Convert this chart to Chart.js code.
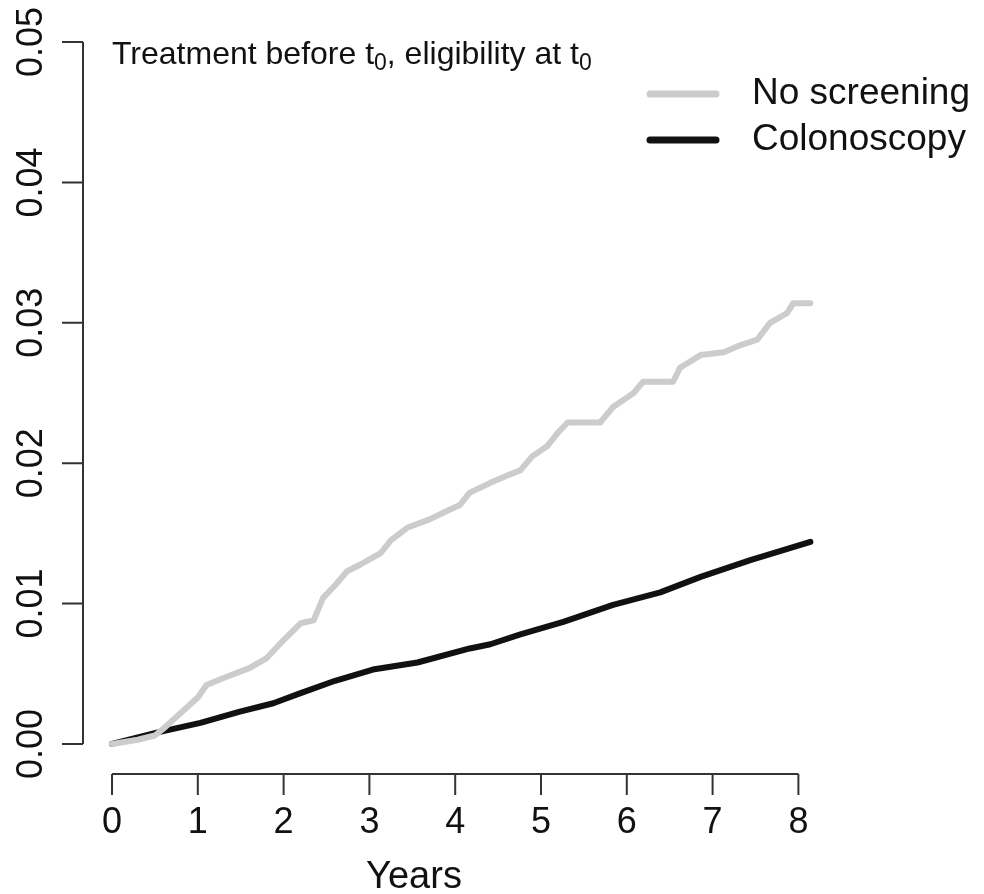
<!DOCTYPE html>
<html>
<head>
<meta charset="utf-8">
<script src="https://cdn.jsdelivr.net/npm/chart.js@4/dist/chart.umd.min.js"></script>
<style>
  html, body { margin: 0; padding: 0; background: #ffffff; }
  #wrap { width: 984px; height: 894px; }
</style>
</head>
<body>
<div id="wrap"><canvas id="c" width="984" height="894"></canvas></div>
<script>
// ---- data ----
const noScreenYears = [0, 0.3, 0.5, 0.62, 0.8, 1.0, 1.1, 1.3, 1.6, 1.8, 2.0, 2.2, 2.35, 2.46, 2.6, 2.74, 2.9, 3.13, 3.25, 3.44, 3.7, 3.94, 4.05, 4.17, 4.41, 4.6, 4.76, 4.9, 5.07, 5.2, 5.31, 5.69, 5.84, 6.08, 6.19, 6.54, 6.62, 6.86, 7.13, 7.32, 7.52, 7.67, 7.87, 7.94, 8.14];
const noScreenValues = [0, 0.0003, 0.0006, 0.0012, 0.0022, 0.0033, 0.0042, 0.0047, 0.0054, 0.0061, 0.0074, 0.0086, 0.0088, 0.0104, 0.0113, 0.0123, 0.0128, 0.0136, 0.0145, 0.0154, 0.0160, 0.0167, 0.0170, 0.0179, 0.0186, 0.0191, 0.0195, 0.0205, 0.0212, 0.0222, 0.0229, 0.0229, 0.0240, 0.0250, 0.0258, 0.0258, 0.0268, 0.0277, 0.0279, 0.0284, 0.0288, 0.0300, 0.0307, 0.0314, 0.0314];
const colonYears = [0, 0.52, 1.03, 1.49, 1.88, 2.19, 2.6, 3.04, 3.56, 4.17, 4.41, 4.76, 5.26, 5.84, 6.39, 6.86, 7.44, 8.14];
const colonValues = [0, 0.0008, 0.0015, 0.0023, 0.0029, 0.0036, 0.0045, 0.0053, 0.0058, 0.0068, 0.0071, 0.0078, 0.0087, 0.0099, 0.0108, 0.0119, 0.0131, 0.0144];
const seriesNames = ["No screening", "Colonoscopy"];
const xTicks = [0, 1, 2, 3, 4, 5, 6, 7, 8];
const yTicks = [0, 0.01, 0.02, 0.03, 0.04, 0.05];
const yTickLabels = ["0.00", "0.01", "0.02", "0.03", "0.04", "0.05"];
const xTitle = "Years";
const panelTitle = ["Treatment before t", "0", ", eligibility at t", "0"];

const FONT = '"Liberation Sans", Arial, sans-serif';
const GRAY = '#cccccc';
const BLACK = '#111111';
const AXIS = '#333333';

const toXY = (xs, ys) => xs.map((x, i) => ({ x: x, y: ys[i] }));

const rAxes = {
  id: 'rAxes',
  afterDraw(chart) {
    const ctx = chart.ctx;
    const xs = chart.scales.x, ys = chart.scales.y;
    const ca = chart.chartArea;
    ctx.save();
    ctx.strokeStyle = AXIS;
    ctx.lineWidth = 2;
    ctx.lineCap = 'butt';
    // y axis
    const yx = ca.left;
    ctx.beginPath();
    ctx.moveTo(yx, ys.getPixelForValue(yTicks[0]));
    ctx.lineTo(yx, ys.getPixelForValue(yTicks[yTicks.length - 1]));
    yTicks.forEach(v => {
      const py = ys.getPixelForValue(v);
      ctx.moveTo(yx, py); ctx.lineTo(yx - 21, py);
    });
    ctx.stroke();
    // x axis
    const xy = ca.bottom + 2;
    ctx.beginPath();
    ctx.moveTo(xs.getPixelForValue(xTicks[0]), xy);
    ctx.lineTo(xs.getPixelForValue(xTicks[xTicks.length - 1]), xy);
    xTicks.forEach(v => {
      const px = xs.getPixelForValue(v);
      ctx.moveTo(px, xy); ctx.lineTo(px, xy + 21);
    });
    ctx.stroke();

    // tick labels
    ctx.fillStyle = '#111';
    ctx.font = '36px ' + FONT;
    ctx.textAlign = 'center';
    ctx.textBaseline = 'middle';
    xTicks.forEach(v => {
      ctx.fillText(String(v), xs.getPixelForValue(v), 823);
    });
    yTicks.forEach((v, i) => {
      const py = ys.getPixelForValue(v);
      ctx.save();
      ctx.translate(32, py);
      ctx.rotate(-Math.PI / 2);
      ctx.fillText(yTickLabels[i], 0, 0);
      ctx.restore();
    });
    // x title
    ctx.font = '38px ' + FONT;
    ctx.textBaseline = 'alphabetic';
    ctx.fillText(xTitle, 414, 888);

    // panel title with subscripts
    ctx.textAlign = 'left';
    let tx = 112;
    const base = 64;
    panelTitle.forEach((s, i) => {
      if (i % 2 === 1) {
        ctx.font = '23px ' + FONT;
        ctx.fillText(s, tx, base + 6);
      } else {
        ctx.font = '32px ' + FONT;
        ctx.fillText(s, tx, base);
      }
      tx += ctx.measureText(s).width;
    });

    // legend
    const ds = chart.data.datasets;
    const rows = [94, 140];
    ds.forEach((d, i) => {
      ctx.strokeStyle = d.borderColor;
      ctx.lineWidth = 7;
      ctx.lineCap = 'round';
      ctx.beginPath();
      ctx.moveTo(650, rows[i]);
      ctx.lineTo(716, rows[i]);
      ctx.stroke();
      ctx.fillStyle = '#111';
      ctx.font = '37px ' + FONT;
      ctx.textBaseline = 'middle';
      ctx.fillText(d.label, 752, rows[i]);
    });
    ctx.restore();
  }
};

new Chart(document.getElementById('c'), {
  type: 'line',
  data: {
    datasets: [
      {
        label: seriesNames[0],
        data: toXY(noScreenYears, noScreenValues),
        borderColor: GRAY,
        borderWidth: 6,
        pointRadius: 0,
        tension: 0,
        fill: false,
        borderCapStyle: 'round',
        borderJoinStyle: 'round'
      },
      {
        label: seriesNames[1],
        data: toXY(colonYears, colonValues),
        borderColor: BLACK,
        borderWidth: 6,
        pointRadius: 0,
        tension: 0,
        fill: false,
        borderCapStyle: 'round',
        borderJoinStyle: 'round'
      }
    ]
  },
  options: {
    responsive: false,
    devicePixelRatio: 1,
    animation: false,
    layout: { padding: { left: 83, top: 14, right: 147, bottom: 122 } },
    plugins: { legend: { display: false }, tooltip: { enabled: false }, title: { display: false } },
    scales: {
      x: { type: 'linear', min: -0.3382, max: 8.45, display: false },
      y: { type: 'linear', min: -0.002, max: 0.052, display: false }
    }
  },
  plugins: [rAxes]
});
</script>
</body>
</html>
